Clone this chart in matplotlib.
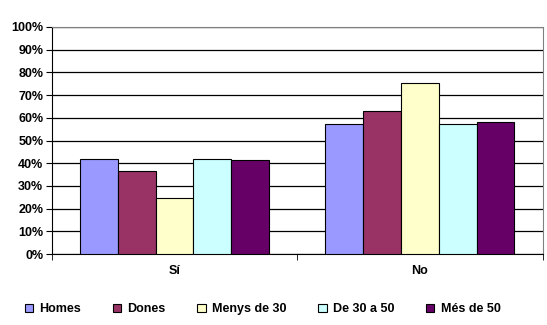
import numpy as np
import matplotlib.pyplot as plt
from matplotlib.ticker import PercentFormatter

categories = ['Sí', 'No']
series = ['Homes', 'Dones', 'Menys de 30', 'De 30 a 50', 'Més de 50']
values = {
    'Homes': [42.1, 57.1],
    'Dones': [36.4, 62.9],
    'Menys de 30': [24.5, 75.2],
    'De 30 a 50': [41.7, 57.4],
    'Més de 50': [41.3, 58.0],
}
colors = ['#9999FF', '#993366', '#FFFFCC', '#CCFFFF', '#660066']

plt.rcParams['font.family'] = ['Liberation Sans', 'DejaVu Sans']
plt.rcParams['font.weight'] = 'bold'
plt.rcParams['font.size'] = 9

fig = plt.figure(figsize=(5.47, 3.25), dpi=100)
ax = fig.add_axes([0.0945, 0.218, 0.8975, 0.699])

x = np.arange(len(categories))
group = 1 / 1.3
w = group / len(series)
for i, (s, c) in enumerate(zip(series, colors)):
    ax.bar(x - group / 2 + w * (i + 0.5), values[s], width=w, color=c,
           edgecolor='black', linewidth=0.8, label=s, zorder=3)

ax.set_xlim(-0.5, 1.5)
ax.set_ylim(0, 100)
ax.set_yticks(np.arange(0, 101, 10))
ax.yaxis.set_major_formatter(PercentFormatter(decimals=0))
ax.grid(axis='y', color='black', linewidth=0.9, zorder=0)
ax.set_xticks(x)
ax.set_xticklabels(categories)
ax.set_xticks([-0.5, 0.5, 1.5], minor=True)
ax.tick_params(axis='x', which='major', length=0, pad=8)
ax.tick_params(axis='x', which='minor', length=4, direction='out')
ax.tick_params(axis='y', length=4, direction='out', pad=2)
ax.spines['top'].set_color('#808080')
ax.spines['right'].set_color('#808080')
ax.spines['left'].set_color('black')
ax.spines['bottom'].set_color('black')

fig.legend(loc='lower center', bbox_to_anchor=(0.48, -0.005), ncol=5, frameon=False,
           handlelength=0.7, handleheight=0.7, handletextpad=0.5, columnspacing=2.5)

fig.savefig('out.png', dpi=100)
